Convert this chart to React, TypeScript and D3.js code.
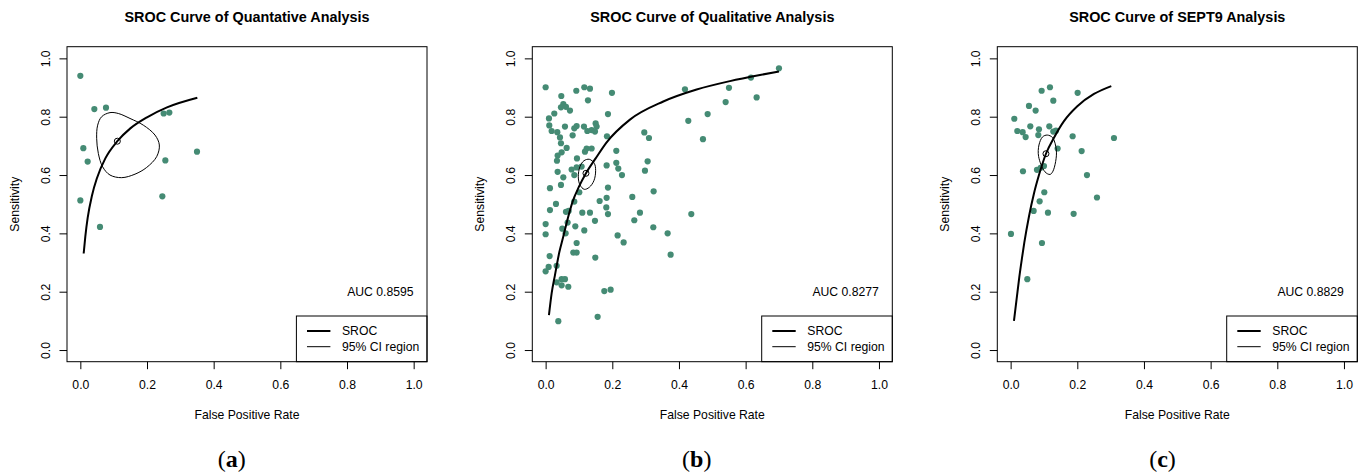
import * as d3 from 'd3';
import { useEffect, useRef } from 'react';

const WIDTH = 1367;
const HEIGHT = 474;

const panelTitles = [
  'SROC Curve of Quantative Analysis',
  'SROC Curve of Qualitative Analysis',
  'SROC Curve of SEPT9 Analysis',
];
const panelLetters = ['a', 'b', 'c'];
const aucLabels = ['AUC 0.8595', 'AUC 0.8277', 'AUC 0.8829'];
const axisTicks = [0, 0.2, 0.4, 0.6, 0.8, 1.0];
const legendLabels = ['SROC', '95% CI region'];

// [false positive rate, sensitivity]
const quantStudies = [
  [0.000, 0.940], [0.042, 0.826], [0.077, 0.831], [0.250, 0.811], [0.267, 0.814],
  [0.009, 0.692], [0.022, 0.646], [0.255, 0.650], [0.350, 0.680], [0.000, 0.513],
  [0.246, 0.527], [0.059, 0.422],
];
const quantSroc = [
  [0.010, 0.331], [0.015, 0.390], [0.022, 0.453], [0.035, 0.530], [0.050, 0.590],
  [0.075, 0.657], [0.111, 0.716], [0.150, 0.760], [0.200, 0.798], [0.260, 0.832],
  [0.351, 0.865],
];
const quantRegion = [
  [0.049, 0.726], [0.052, 0.771], [0.064, 0.800], [0.089, 0.814], [0.114, 0.811],
  [0.149, 0.794], [0.189, 0.771], [0.224, 0.737], [0.237, 0.703], [0.229, 0.663],
  [0.199, 0.626], [0.164, 0.603], [0.124, 0.591], [0.089, 0.600], [0.067, 0.628],
  [0.054, 0.674],
];
const quantSummary = [0.111, 0.716];

const qualStudies = [
  [0.000, 0.901], [0.047, 0.871], [0.092, 0.889], [0.116, 0.901], [0.133, 0.896],
  [0.127, 0.856], [0.199, 0.882], [0.418, 0.894], [0.550, 0.899], [0.616, 0.934],
  [0.633, 0.866], [0.540, 0.850], [0.053, 0.843], [0.046, 0.832], [0.061, 0.834],
  [0.073, 0.821], [0.026, 0.811], [0.010, 0.794], [0.187, 0.809], [0.486, 0.809],
  [0.428, 0.786], [0.011, 0.770], [0.018, 0.751], [0.035, 0.747], [0.058, 0.766],
  [0.086, 0.760], [0.093, 0.768], [0.081, 0.736], [0.115, 0.766], [0.125, 0.751],
  [0.138, 0.754], [0.150, 0.777], [0.153, 0.766], [0.148, 0.749], [0.184, 0.733],
  [0.296, 0.746], [0.310, 0.727], [0.472, 0.723], [0.043, 0.729], [0.046, 0.709],
  [0.063, 0.693], [0.048, 0.678], [0.036, 0.667], [0.034, 0.649], [0.123, 0.691],
  [0.138, 0.691], [0.118, 0.680], [0.212, 0.683], [0.094, 0.657], [0.183, 0.633],
  [0.212, 0.642], [0.218, 0.622], [0.229, 0.600], [0.306, 0.647], [0.298, 0.615],
  [0.078, 0.619], [0.093, 0.626], [0.108, 0.629], [0.036, 0.611], [0.086, 0.600],
  [0.053, 0.592], [0.046, 0.566], [0.013, 0.555], [0.101, 0.541], [0.187, 0.557],
  [0.183, 0.522], [0.260, 0.525], [0.324, 0.544], [0.031, 0.501], [0.086, 0.509],
  [0.162, 0.511], [0.182, 0.489], [0.013, 0.480], [0.061, 0.474], [0.069, 0.477],
  [0.110, 0.471], [0.133, 0.471], [0.187, 0.466], [0.283, 0.471], [0.437, 0.466],
  [0.000, 0.432], [0.066, 0.437], [0.089, 0.424], [0.148, 0.443], [0.266, 0.445],
  [0.323, 0.421], [0.000, 0.397], [0.050, 0.416], [0.060, 0.400], [0.116, 0.410],
  [0.366, 0.400], [0.216, 0.393], [0.234, 0.369], [0.093, 0.367], [0.083, 0.334],
  [0.093, 0.334], [0.012, 0.322], [0.149, 0.317], [0.375, 0.327], [0.033, 0.289],
  [0.009, 0.285], [0.000, 0.270], [0.033, 0.232], [0.048, 0.243], [0.058, 0.243],
  [0.048, 0.222], [0.068, 0.217], [0.176, 0.202], [0.195, 0.207], [0.156, 0.114],
  [0.038, 0.099], [0.700, 0.966],
];
const qualSroc = [
  [0.010, 0.120], [0.018, 0.194], [0.028, 0.257], [0.041, 0.335], [0.053, 0.389],
  [0.068, 0.458], [0.081, 0.509], [0.100, 0.560], [0.121, 0.606], [0.150, 0.657],
  [0.183, 0.712], [0.253, 0.790], [0.353, 0.852], [0.453, 0.893], [0.553, 0.922],
  [0.643, 0.943], [0.700, 0.955],
];
const qualRegion = [
  [0.131, 0.654], [0.146, 0.640], [0.150, 0.615], [0.145, 0.581], [0.131, 0.558],
  [0.116, 0.551], [0.103, 0.566], [0.098, 0.594], [0.103, 0.629], [0.115, 0.649],
];
const qualSummary = [0.121, 0.606];

const septStudies = [
  [0.093, 0.889], [0.118, 0.901], [0.201, 0.882], [0.128, 0.855], [0.055, 0.837],
  [0.075, 0.821], [0.011, 0.793], [0.020, 0.751], [0.036, 0.747], [0.045, 0.730],
  [0.059, 0.767], [0.085, 0.757], [0.083, 0.737], [0.116, 0.767], [0.128, 0.749],
  [0.136, 0.752], [0.186, 0.733], [0.310, 0.727], [0.141, 0.691], [0.213, 0.682],
  [0.037, 0.613], [0.079, 0.618], [0.090, 0.625], [0.100, 0.631], [0.229, 0.600],
  [0.101, 0.541], [0.087, 0.510], [0.259, 0.523], [0.069, 0.477], [0.112, 0.471],
  [0.189, 0.467], [0.001, 0.398], [0.094, 0.367], [0.050, 0.243],
];
const septSroc = [
  [0.010, 0.100], [0.018, 0.175], [0.026, 0.250], [0.034, 0.315], [0.041, 0.368],
  [0.055, 0.458], [0.070, 0.537], [0.085, 0.600], [0.106, 0.673], [0.130, 0.728],
  [0.160, 0.785], [0.200, 0.836], [0.250, 0.878], [0.302, 0.905],
];
const septRegion = [
  [0.110, 0.737], [0.126, 0.728], [0.137, 0.686], [0.135, 0.646], [0.126, 0.611],
  [0.118, 0.602], [0.103, 0.611], [0.084, 0.663], [0.085, 0.703], [0.096, 0.731],
];
const septSummary = [0.106, 0.673];

const panels = [
  { studies: quantStudies, sroc: quantSroc, region: quantRegion, summary: quantSummary },
  { studies: qualStudies, sroc: qualSroc, region: qualRegion, summary: qualSummary },
  { studies: septStudies, sroc: septSroc, region: septRegion, summary: septSummary },
];

const App = () => {
  const ref = useRef(null);

  useEffect(() => {
    document.body.style.margin = '0';
    const svg = d3.select(ref.current);
    svg.selectAll('*').remove();

    const boxLefts = [67, 532.3, 997.3];
    const captionX = [231.7, 696.7, 1162.5];
    const boxTop = 46.7;
    const boxW = 360;
    const boxH = 315;
    const font = '"Liberation Sans", Arial, sans-serif';
    const dotColor = '#458B74';

    panels.forEach((p, i) => {
      const left = boxLefts[i];
      const right = left + boxW;
      const bottom = boxTop + boxH;
      const cx = left + boxW / 2;

      const x = d3.scaleLinear().domain([-0.04, 1.04]).range([left, right]);
      const y = d3.scaleLinear().domain([-0.04, 1.04]).range([bottom, boxTop]);

      const g = svg.append('g').style('font-family', font);

      // title
      g.append('text')
        .attr('x', cx)
        .attr('y', 22)
        .attr('text-anchor', 'middle')
        .style('font-size', '14.4px')
        .style('font-weight', 'bold')
        .text(panelTitles[i]);

      // x axis
      const xAxis = g.append('g')
        .attr('transform', `translate(0,${bottom})`)
        .call(d3.axisBottom(x).tickValues(axisTicks).tickSize(7.5).tickSizeOuter(0).tickFormat(d3.format('.1f')));
      xAxis.select('.domain').remove();
      xAxis.selectAll('line').attr('stroke', '#000');
      xAxis.selectAll('text')
        .attr('y', 27.6)
        .attr('dy', 0)
        .style('font-size', '12.2px')
        .style('font-family', font)
        .attr('fill', '#000');

      // y axis
      const yAxis = g.append('g')
        .attr('transform', `translate(${left},0)`)
        .call(d3.axisLeft(y).tickValues(axisTicks).tickSize(7.5).tickSizeOuter(0).tickFormat(d3.format('.1f')));
      yAxis.select('.domain').remove();
      yAxis.selectAll('line').attr('stroke', '#000');
      yAxis.selectAll('text')
        .attr('transform', 'rotate(-90)')
        .attr('x', 0)
        .attr('y', -17)
        .attr('dy', 0)
        .attr('text-anchor', 'middle')
        .style('font-size', '12.2px')
        .style('font-family', font)
        .attr('fill', '#000');

      // axis labels
      g.append('text')
        .attr('x', cx)
        .attr('y', 419)
        .attr('text-anchor', 'middle')
        .style('font-size', '12.2px')
        .text('False Positive Rate');

      g.append('text')
        .attr('transform', `translate(${left - 48},${boxTop + boxH / 2}) rotate(-90)`)
        .attr('text-anchor', 'middle')
        .style('font-size', '12.2px')
        .text('Sensitivity');

      // study points
      g.append('g')
        .selectAll('circle')
        .data(p.studies)
        .enter()
        .append('circle')
        .attr('cx', d => x(d[0]))
        .attr('cy', d => y(d[1]))
        .attr('r', 3.1)
        .attr('fill', dotColor);

      // SROC curve
      const line = d3.line().x(d => x(d[0])).y(d => y(d[1])).curve(d3.curveMonotoneX);
      g.append('path')
        .attr('d', line(p.sroc))
        .attr('fill', 'none')
        .attr('stroke', '#000')
        .attr('stroke-width', 2);

      // confidence region
      const ring = d3.line().x(d => x(d[0])).y(d => y(d[1])).curve(d3.curveCatmullRomClosed.alpha(0.5));
      g.append('path')
        .attr('d', ring(p.region))
        .attr('fill', 'none')
        .attr('stroke', '#000')
        .attr('stroke-width', 1);

      // summary point
      g.append('circle')
        .attr('cx', x(p.summary[0]))
        .attr('cy', y(p.summary[1]))
        .attr('r', 3)
        .attr('fill', 'none')
        .attr('stroke', '#000')
        .attr('stroke-width', 1);

      // AUC
      g.append('text')
        .attr('x', x(0.9))
        .attr('y', y(0.2))
        .attr('dy', '0.35em')
        .attr('text-anchor', 'middle')
        .style('font-size', '12.2px')
        .text(aucLabels[i]);

      // legend
      const legW = 130.6;
      const legH = 45.7;
      const legend = g.append('g').attr('transform', `translate(${right - legW},${bottom - legH})`);
      legend.append('rect')
        .attr('width', legW)
        .attr('height', legH)
        .attr('fill', '#fff')
        .attr('stroke', '#000')
        .attr('stroke-width', 1);
      legendLabels.forEach((label, k) => {
        const ly = 15 + k * 15.7;
        legend.append('line')
          .attr('x1', 10.6)
          .attr('x2', 34)
          .attr('y1', ly)
          .attr('y2', ly)
          .attr('stroke', '#000')
          .attr('stroke-width', k === 0 ? 2 : 1);
        legend.append('text')
          .attr('x', 45.6)
          .attr('y', ly + 4.3)
          .style('font-size', '12.2px')
          .text(label);
      });

      // plot box
      g.append('rect')
        .attr('x', left)
        .attr('y', boxTop)
        .attr('width', boxW)
        .attr('height', boxH)
        .attr('fill', 'none')
        .attr('stroke', '#000')
        .attr('stroke-width', 1);

      // caption
      const cap = g.append('text')
        .attr('x', captionX[i])
        .attr('y', 466.5)
        .attr('text-anchor', 'middle')
        .style('font-family', '"Liberation Serif", "Times New Roman", serif')
        .style('font-size', '24px');
      cap.append('tspan').text('(');
      cap.append('tspan').style('font-weight', 'bold').text(panelLetters[i]);
      cap.append('tspan').text(')');
    });
  }, []);

  return <svg ref={ref} width={WIDTH} height={HEIGHT} style={{ display: 'block', background: '#fff' }}></svg>;
};

export default App;
